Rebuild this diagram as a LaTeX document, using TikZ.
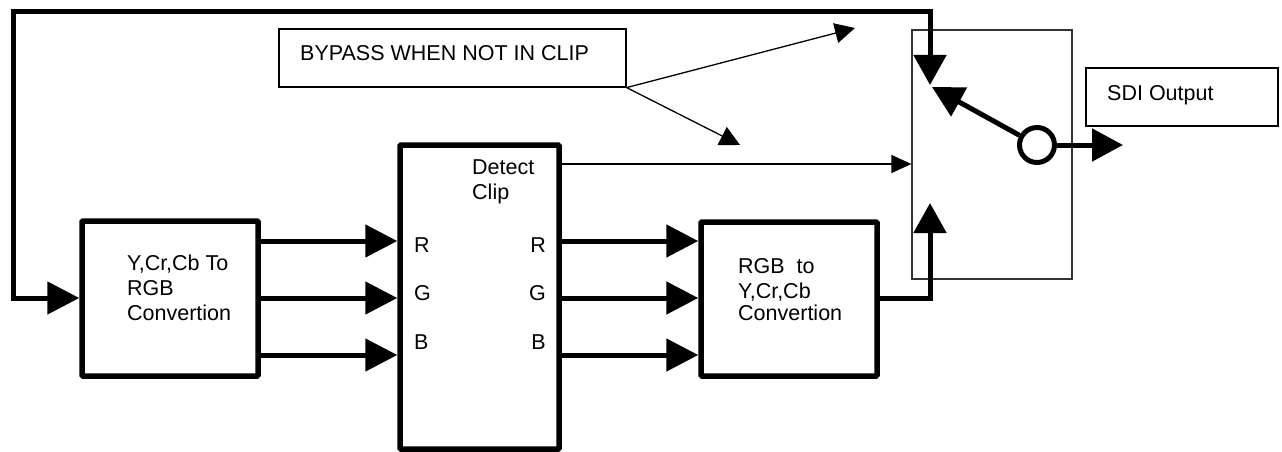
\documentclass[tikz,border=0pt]{standalone}
\usepackage{fontspec}
\setmainfont{Liberation Sans}
\usetikzlibrary{arrows.meta}
\begin{document}
\begin{tikzpicture}[x=1pt,y=-1pt,
  thickbox/.style={draw, line width=5.5pt, inner sep=0pt, rounded corners=1pt},
  thinbox/.style={draw, line width=1.2pt, inner sep=0pt},
  lbl/.style={inner sep=0pt, font=\fontsize{21.5pt}{24.5pt}\selectfont},
  bus/.style={line width=5pt, line join=miter, -{Triangle[length=32pt,width=32pt]}},
  sig/.style={line width=1.3pt, -{Triangle[length=20pt,width=18pt]}}]
\useasboundingbox (0,0) rectangle (1282,452);

% boxes
\node[thickbox, minimum width=176pt, minimum height=155pt] (conv1) at (170,298.5) {};
\node[thickbox, minimum width=159pt, minimum height=304pt] (detect) at (479.5,297) {};
\node[thickbox, minimum width=176pt, minimum height=154pt] (conv2) at (789,299) {};
\node[thinbox, minimum width=347pt, minimum height=58pt] (bypass) at (452.5,58) {};
\node[thinbox, draw=black!80, minimum width=160pt, minimum height=249pt] (switch) at (992,154.5) {};
\node[thinbox, minimum width=192pt, minimum height=58pt] (sdi) at (1182,97) {};
\node[draw, circle, line width=5pt, minimum size=35pt, inner sep=0pt, fill=white] (pivot) at (1037,145) {};

% texts
\node[lbl, anchor=base west] (t1a) at (127,270.7) {Y,Cr,Cb To};
\node[lbl, anchor=base west] (t1b) at (127,295.5) {RGB};
\node[lbl, anchor=base west] (t1c) at (127,320) {Convertion};
\node[lbl, anchor=base west] (tda) at (472,174.7) {Detect};
\node[lbl, anchor=base west] (tdb) at (472,199.2) {Clip};
\node[lbl, anchor=base west] (inR) at (414,252.7) {R};
\node[lbl, anchor=base west] (inG) at (414,300.7) {G};
\node[lbl, anchor=base west] (inB) at (414,349.7) {B};
\node[lbl, anchor=base east] (outR) at (546,252.7) {R};
\node[lbl, anchor=base east] (outG) at (546,300.7) {G};
\node[lbl, anchor=base east] (outB) at (546,349.7) {B};
\node[lbl, anchor=base west] (t2a) at (738,273.7) {RGB~ to};
\node[lbl, anchor=base west] (t2b) at (738,298.5) {Y,Cr,Cb};
\node[lbl, anchor=base west] (t2c) at (738,320) {Convertion};
\node[lbl, anchor=base west] (tby) at (300,60) {BYPASS WHEN NOT IN CLIP};
\node[lbl, anchor=base west] (tsdi) at (1107,100.7) {SDI Output};

% coordinates
\coordinate (rowR) at (0,241);
\coordinate (rowG) at (0,298);
\coordinate (rowB) at (0,355);
\coordinate (rowclip) at (0,164);
\coordinate (loopTL) at (13,12);
\coordinate (loopBL) at (13,298);
\coordinate (loopTR) at (930,12);
\coordinate (swtop) at (930,85);
\coordinate (swbot) at (930,203);
\coordinate (levertip) at (932,87);
\coordinate (outtip) at (1123,145);
\coordinate (byp1) at (855,28);
\coordinate (byp2) at (740,145);

% input loop
\draw[bus, {Triangle[length=30pt,width=32pt]}-{Triangle[length=32pt,width=32pt]}]
  (swtop) -- (loopTR) -- (loopTL) -- (loopBL) -- (conv1.west |- loopBL);

% RGB buses
\foreach \r in {rowR,rowG,rowB}{
  \draw[bus] (conv1.east |- \r) -- (detect.west |- \r);
  \draw[bus] (detect.east |- \r) -- (conv2.west |- \r);
}

% to switch
\draw[bus, -{Triangle[length=30pt,width=32pt]}] (conv2.east |- rowG) -| (swbot);
\draw[sig] (detect.east |- rowclip) -- (switch.west |- rowclip);
\draw[bus, -{Triangle[length=31pt,width=32pt]}] (pivot) -- (levertip);
\draw[bus, -{Triangle[length=31pt,width=32pt]}] (pivot) -- (outtip);

% bypass arrows
\draw[sig, -{Triangle[length=20pt,width=20pt]}] (bypass.south east) -- (byp1);
\draw[sig, -{Triangle[length=20pt,width=20pt]}] (bypass.south east) -- (byp2);
\end{tikzpicture}
\end{document}
